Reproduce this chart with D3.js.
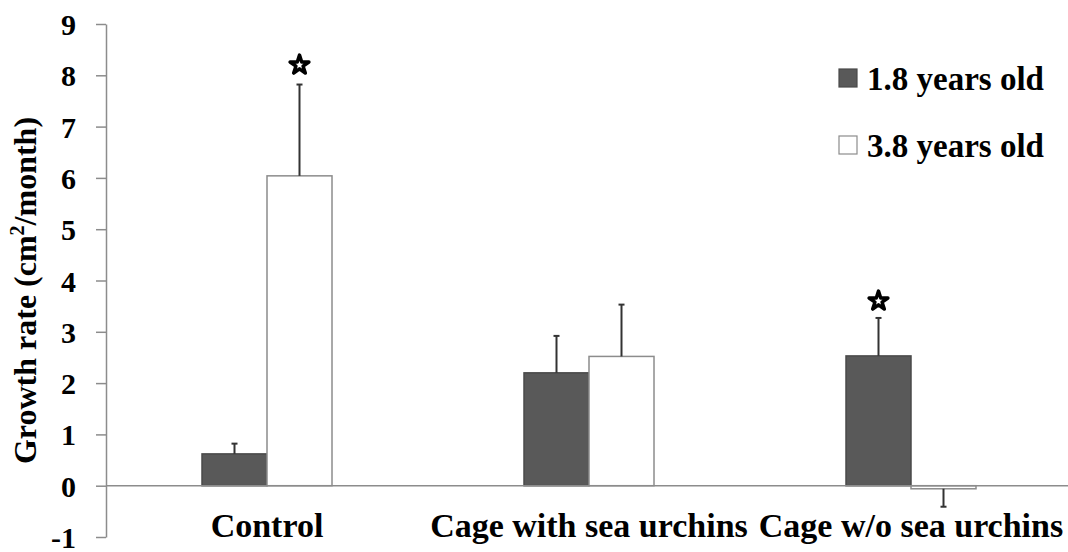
<!DOCTYPE html>
<html>
<head>
  <meta charset="utf-8">
  <title>Growth rate</title>
  <script src="https://d3js.org/d3.v7.min.js"></script>
  <style>
    body { margin: 0; background: #fff; }
    svg text { font-family: "Liberation Serif", "DejaVu Serif", "Times New Roman", serif; font-weight: bold; fill: #000; }
  </style>
</head>
<body>
<div id="chart"></div>
<script>
  const categories = ['Control', 'Cage with sea urchins', 'Cage w/o sea urchins'];
  const seriesNames = ['1.8 years old', '3.8 years old'];
  const young = [0.62, 2.20, 2.53];
  const old = [6.04, 2.52, -0.06];
  const youngErr = [0.20, 0.72, 0.74];
  const oldErr = [1.78, 1.01, 0.35];
  // star marks: [category index, series index, value]
  const stars = [[0, 1, 8.2], [2, 0, 3.6]];
  const yTicks = [-1, 0, 1, 2, 3, 4, 5, 6, 7, 8, 9];

  const width = 1068, height = 552;
  const serif = '"Liberation Serif", "DejaVu Serif", serif';
  const svg = d3.select('#chart').append('svg')
    .attr('width', width)
    .attr('height', height)
    .attr('font-family', serif);

  const y = d3.scaleLinear().domain([-1, 9]).range([537, 24]);
  const x = d3.scaleBand().domain(categories).range([106, 1072]);
  const barW = 65;
  const fills = ['#595959', '#ffffff'];
  const strokes = ['#4a4a4a', '#8c8c8c'];

  // y axis
  const yAxis = svg.append('g')
    .attr('transform', 'translate(106,0)')
    .call(d3.axisLeft(y).tickValues(yTicks).tickFormat(d => String(d))
      .tickSize(10).tickPadding(20).tickSizeOuter(0));
  yAxis.attr('font-family', serif);
  yAxis.select('.domain').attr('stroke', '#8c8c8c').attr('stroke-width', 1.5);
  yAxis.selectAll('.tick line').attr('stroke', '#8c8c8c').attr('stroke-width', 1.5);
  yAxis.selectAll('.tick text').style('font-size', '30px').attr('dy', '0.35em');

  svg.append('text')
    .attr('transform', `translate(36,${(y(-1) + y(9)) / 2 + 10}) rotate(-90)`)
    .attr('text-anchor', 'middle')
    .style('font-size', '32px')
    .html('Growth rate (cm<tspan dy="-12" style="font-size:20px">2</tspan><tspan dy="12">/month)</tspan>');

  // bars
  const rows = categories.map((c, i) => ({ c, vals: [young[i], old[i]], errs: [youngErr[i], oldErr[i]] }));
  const groups = svg.append('g').selectAll('g').data(rows).enter().append('g');

  groups.each(function (d) {
    const g = d3.select(this);
    const cx = x(d.c) + x.bandwidth() / 2;
    d.vals.forEach((v, s) => {
      const x0 = cx - barW + s * barW;
      g.append('rect')
        .attr('x', x0)
        .attr('y', Math.min(y(v), y(0)))
        .attr('width', barW)
        .attr('height', Math.abs(y(v) - y(0)))
        .attr('fill', fills[s])
        .attr('stroke', strokes[s])
        .attr('stroke-width', 1.5);
      const ev = v >= 0 ? v + d.errs[s] : v - d.errs[s];
      const ex = x0 + barW / 2;
      g.append('line')
        .attr('x1', ex).attr('x2', ex)
        .attr('y1', y(v)).attr('y2', y(ev))
        .attr('stroke', '#333').attr('stroke-width', 2);
      g.append('line')
        .attr('x1', ex - 3).attr('x2', ex + 3)
        .attr('y1', y(ev)).attr('y2', y(ev))
        .attr('stroke', '#333').attr('stroke-width', 2);
    });
  });

  // x axis line at zero
  svg.append('line')
    .attr('x1', 106).attr('x2', width)
    .attr('y1', y(0)).attr('y2', y(0))
    .attr('stroke', '#8c8c8c').attr('stroke-width', 1.5);

  // category labels
  svg.append('g').selectAll('text').data(categories).enter()
    .append('text')
    .attr('x', d => x(d) + x.bandwidth() / 2)
    .attr('y', 537)
    .attr('text-anchor', 'middle')
    .style('font-size', '34px')
    .text(d => d);

  // significance stars
  const star = d3.symbol().type(d3.symbolStar).size(110);
  svg.append('g').selectAll('path').data(stars).enter()
    .append('path')
    .attr('d', star)
    .attr('transform', d => {
      const cx = x(categories[d[0]]) + x.bandwidth() / 2 - barW + d[1] * barW + barW / 2;
      return `translate(${cx},${y(d[2])})`;
    })
    .attr('fill', '#fff')
    .attr('stroke', '#000')
    .attr('stroke-width', 3.5)
    .attr('stroke-linejoin', 'round');

  // legend
  const legend = svg.append('g').selectAll('g').data(seriesNames).enter()
    .append('g')
    .attr('transform', (d, i) => `translate(839,${69 + i * 67})`);
  legend.append('rect')
    .attr('width', 18).attr('height', 18)
    .attr('fill', (d, i) => fills[i])
    .attr('stroke', (d, i) => strokes[i])
    .attr('stroke-width', 1.2);
  legend.append('text')
    .attr('x', 28).attr('y', 21)
    .style('font-size', '33px')
    .text(d => d);
</script>
</body>
</html>
